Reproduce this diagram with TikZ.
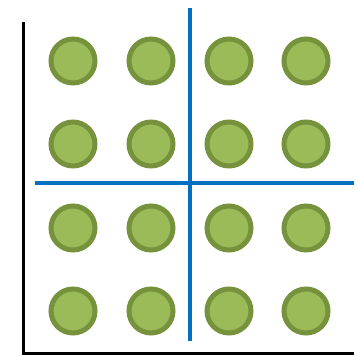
\documentclass[tikz,border=0pt]{standalone}
\usepackage{tikz}
\definecolor{leafring}{RGB}{118,146,60}
\definecolor{leaffill}{RGB}{155,187,89}
\definecolor{splitblue}{RGB}{0,112,192}
\tikzset{
  dot/.style={circle, draw=leafring, fill=leaffill, line width=5pt, minimum size=44pt, inner sep=0pt},
  axisline/.style={draw=black, line width=3pt},
  splitline/.style={draw=splitblue, line width=4pt},
}
\begin{document}
\begin{tikzpicture}[x=1pt, y=-1pt]
  \useasboundingbox (0,0) rectangle (354,356);
  % ---- axes ---------------------------------------------------------------
  \coordinate (ytop) at (23,22);
  \coordinate (orig) at (23,353);
  \coordinate (xend) at (354,353);
  \draw[axisline] (ytop) -- (orig) -- (xend);

  % ---- grid of dots -------------------------------------------------------
  \foreach \r/\y in {1/61,2/144,3/228,4/311}
    \foreach \c/\x in {1/73,2/151,3/229,4/306}
      \node[dot] (d\r\c) at (\x,\y) {};

  % ---- split lines --------------------------------------------------------
  \coordinate (vtop) at (190,8);
  \coordinate (vbot) at (190,341);
  \coordinate (hleft) at (35,182.5);
  \coordinate (hright) at (354,182.5);
  \draw[splitline] (vtop) -- (vbot);
  \draw[splitline] (hleft) -- (hright);
\end{tikzpicture}
\end{document}
